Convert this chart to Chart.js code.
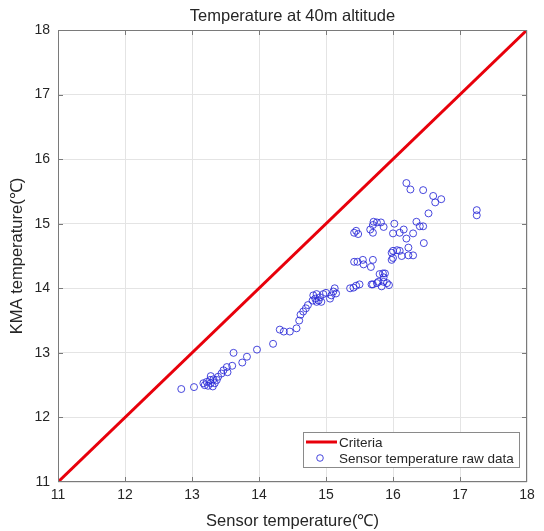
<!DOCTYPE html>
<html><head><meta charset="utf-8">
<script src="https://cdn.jsdelivr.net/npm/chart.js@4/dist/chart.umd.min.js"></script>
<style>html,body{margin:0;padding:0;background:#fff}#wrap{width:544px;height:531px;position:relative}</style>
</head><body><div id="wrap"><canvas id="c" width="544" height="531"></canvas></div>
<script>
const chartTitle = "Temperature at 40m altitude";
const xTitle = "Sensor temperature(\u2103)";
const yTitle = "KMA temperature(\u2103)";
const seriesNames = ["Criteria", "Sensor temperature raw data"];
const criteriaX = [11, 18];
const criteriaY = [11, 18];
const axisMin = 11;
const axisMax = 18;
const sensorTemp = [
 12.84,13.03,13.17,13.19,13.22,13.24,13.27,13.28,13.31,13.32,13.34,13.37,13.39,13.28,13.44,13.47,13.53,13.52,13.60,13.62,
 13.75,13.82,13.97,14.21,14.31,14.37,14.46,14.56,14.60,14.62,14.66,14.70,14.73,
 14.81,14.84,14.86,14.89,14.91,14.93,14.86,14.80,14.96,15.00,15.06,15.08,15.11,15.13,15.15,
 15.36,15.41,15.45,15.50,15.68,15.76,15.78,15.70,15.80,15.85,15.88,15.86,15.86,15.91,15.94,15.83,
 15.42,15.47,15.55,15.56,15.70,15.67,
 15.98,16.00,16.06,16.10,16.13,16.23,16.23,16.30,15.98,16.00,16.46,
 15.45,15.42,15.48,15.66,15.70,15.71,15.76,15.82,15.86,15.70,16.02,16.00,16.10,16.16,16.20,16.30,16.35,16.40,16.45,
 16.20,16.26,16.45,16.60,16.63,16.72,16.53,17.25,17.25
];
const kmaTemp = [
 12.44,12.47,12.53,12.50,12.55,12.49,12.58,12.53,12.48,12.59,12.53,12.58,12.63,12.64,12.68,12.73,12.70,12.78,12.80,13.00,
 12.85,12.94,13.05,13.14,13.36,13.33,13.33,13.38,13.50,13.59,13.64,13.69,13.74,
 13.89,13.84,13.91,13.81,13.86,13.79,13.79,13.81,13.91,13.93,13.84,13.89,13.95,14.00,13.92,
 14.00,14.01,14.04,14.06,14.06,14.08,14.10,14.06,14.22,14.23,14.23,14.17,14.10,14.08,14.05,14.03,
 14.41,14.41,14.44,14.37,14.44,14.33,
 14.55,14.58,14.59,14.58,14.50,14.63,14.51,14.51,14.44,14.47,14.70,
 14.89,14.86,14.84,14.91,14.86,15.03,15.02,15.02,14.95,14.98,15.00,14.85,14.86,14.91,14.77,14.85,15.03,14.96,14.96,
 15.63,15.53,15.52,15.43,15.33,15.38,15.16,15.21,15.13
];

const FONT = "'Liberation Sans', Arial, sans-serif";
const TXT = '#262626';

const boxPlugin = {
  id: 'boxPlugin',
  afterDatasetsDraw(chart) {
    const {ctx, chartArea: a, scales} = chart;
    ctx.save();
    ctx.strokeStyle = '#7a7a7a';
    ctx.lineWidth = 1;
    ctx.strokeRect(a.left + 0.5, a.top + 0.5, a.right - a.left - 1, a.bottom - a.top - 1);
    const tl = 5;
    ctx.beginPath();
    for (let v = axisMin + 1; v < axisMax; v++) {
      const px = Math.round(scales.x.getPixelForValue(v)) + 0.5;
      ctx.moveTo(px, a.bottom); ctx.lineTo(px, a.bottom - tl);
      ctx.moveTo(px, a.top); ctx.lineTo(px, a.top + tl);
      const py = Math.round(scales.y.getPixelForValue(v)) + 0.5;
      ctx.moveTo(a.left, py); ctx.lineTo(a.left + tl, py);
      ctx.moveTo(a.right, py); ctx.lineTo(a.right - tl, py);
    }
    ctx.stroke();
    ctx.restore();
  },
  afterDraw(chart) {
    const {ctx, chartArea: a} = chart;
    const ds = chart.data.datasets;
    const w = 216, h = 35;
    const x0 = a.right - 8 - w, y0 = a.bottom - 15 - h;
    ctx.save();
    ctx.fillStyle = '#fff';
    ctx.fillRect(x0, y0, w, h);
    ctx.strokeStyle = '#8a8a8a';
    ctx.lineWidth = 1;
    ctx.strokeRect(x0 + 0.5, y0 + 0.5, w, h);
    const r1 = y0 + 10, r2 = y0 + 26;
    ctx.strokeStyle = ds[0].borderColor;
    ctx.lineWidth = 3;
    ctx.beginPath(); ctx.moveTo(x0 + 3, r1); ctx.lineTo(x0 + 34, r1); ctx.stroke();
    ctx.strokeStyle = ds[1].borderColor;
    ctx.lineWidth = 1;
    ctx.beginPath(); ctx.arc(x0 + 17, r2, 3.3, 0, Math.PI * 2); ctx.stroke();
    ctx.fillStyle = TXT;
    ctx.font = '13.5px ' + FONT;
    ctx.textBaseline = 'middle';
    ctx.textAlign = 'left';
    ctx.fillText(ds[0].label, x0 + 36, r1 + 1);
    ctx.fillText(ds[1].label, x0 + 36, r2 + 1);
    ctx.restore();
  }
};

new Chart(document.getElementById('c'), {
  type: 'scatter',
  data: {
    datasets: [
      {
        label: seriesNames[0],
        type: 'line',
        data: criteriaX.map((x, i) => ({x, y: criteriaY[i]})),
        borderColor: '#e8000b',
        borderWidth: 3,
        pointRadius: 0,
        fill: false,
        order: 1
      },
      {
        label: seriesNames[1],
        data: sensorTemp.map((x, i) => ({x, y: kmaTemp[i]})),
        borderColor: 'rgba(40,40,215,0.85)',
        backgroundColor: 'rgba(0,0,0,0)',
        borderWidth: 1,
        pointRadius: 3.5,
        order: 2
      }
    ]
  },
  options: {
    responsive: false,
    animation: false,
    layout: {padding: {left: 0, right: 17, top: 0, bottom: 0}},
    plugins: {
      legend: {display: false},
      tooltip: {enabled: false},
      title: {
        display: true, text: chartTitle, color: TXT, fullSize: false,
        font: {family: FONT, size: 16.5, weight: 'normal'},
        padding: {top: 7, bottom: 3.2}
      }
    },
    scales: {
      x: {
        type: 'linear', min: axisMin, max: axisMax,
        border: {display: false},
        grid: {color: '#e4e4e4', drawTicks: false},
        ticks: {stepSize: 1, color: TXT, padding: 5, font: {family: FONT, size: 14}},
        title: {display: true, text: xTitle, color: TXT, font: {family: FONT, size: 16.5}, padding: {top: 4.5, bottom: 0}},
        afterFit(s) { s.height = 49; }
      },
      y: {
        type: 'linear', min: axisMin, max: axisMax,
        border: {display: false},
        grid: {color: '#e4e4e4', drawTicks: false},
        ticks: {stepSize: 1, color: TXT, padding: 8, font: {family: FONT, size: 14}},
        title: {display: true, text: yTitle, color: TXT, font: {family: FONT, size: 16.5}, padding: {top: 8, bottom: 0}},
        afterFit(s) { s.width = 58; }
      }
    }
  },
  plugins: [boxPlugin]
});
</script>
</body></html>
